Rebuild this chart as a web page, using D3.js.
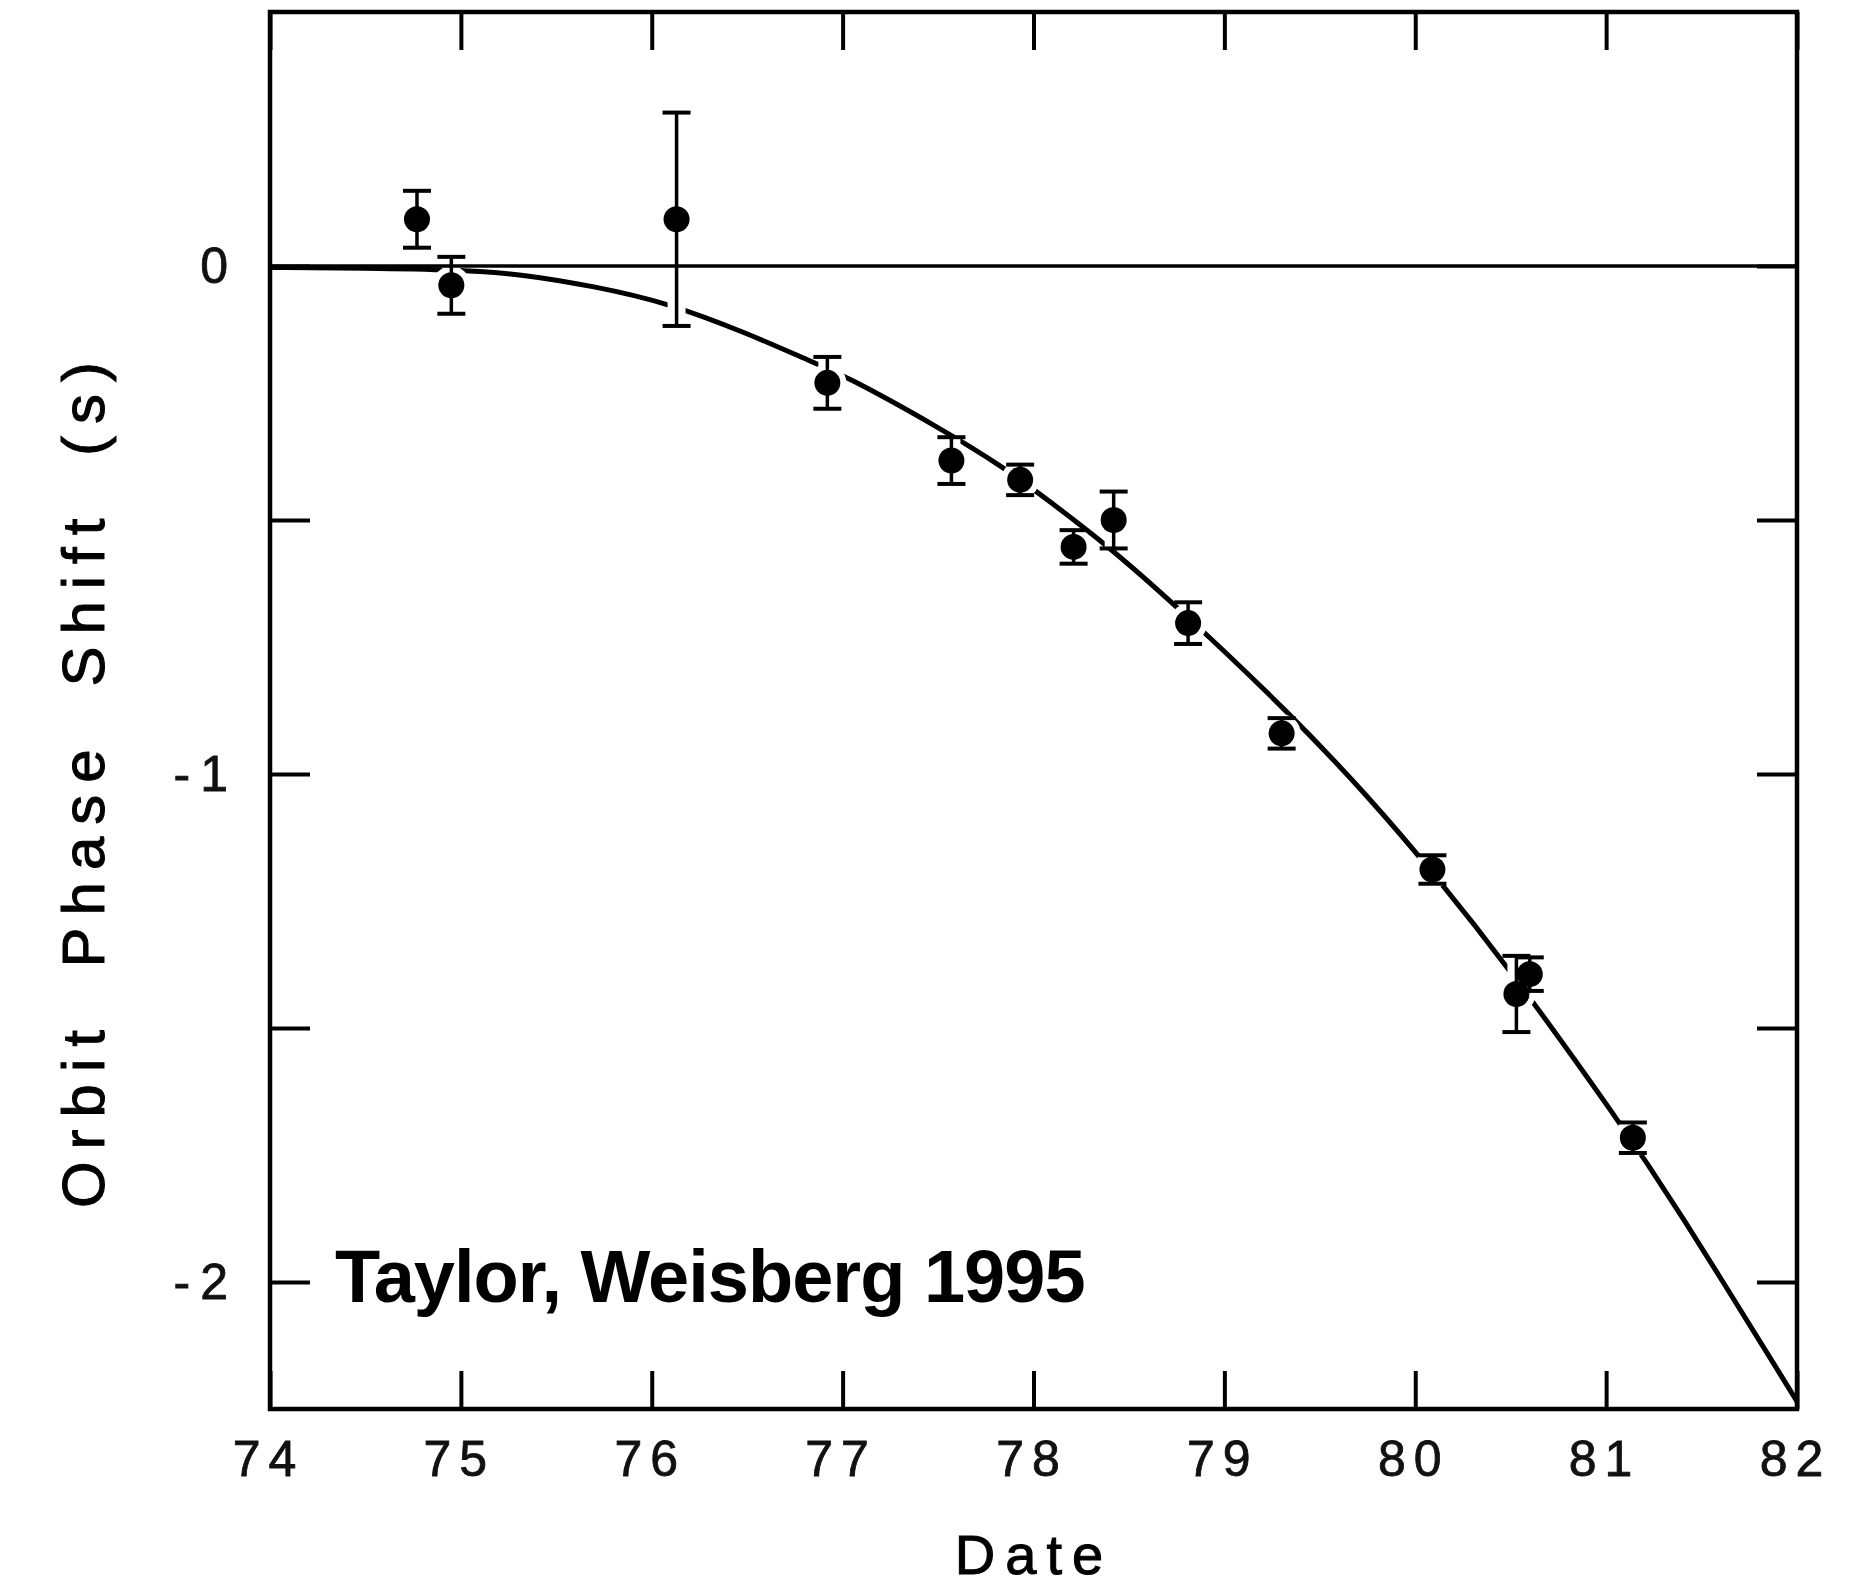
<!DOCTYPE html>
<html>
<head>
<meta charset="utf-8">
<script src="https://cdn.jsdelivr.net/npm/d3@7"></script>
<style>
  body { margin: 0; background: #fff; }
  svg { display: block; }
  .tick text { font-family: "Liberation Sans", Arial, sans-serif; font-size: 50px; fill: #111; stroke: #111; stroke-width: 0.8px; }
</style>
</head>
<body>
<script>

//Measured points: date (19xx), orbit phase shift (s), error half-height (s)
var dates  = [74.77, 74.95, 76.13, 76.92, 77.57, 77.93, 78.21, 78.42, 78.81, 79.30, 80.09, 80.53, 80.60, 81.14];
var shifts = [0.092, -0.038, 0.092, -0.230, -0.383, -0.421, -0.553, -0.500, -0.703, -0.920, -1.188, -1.433, -1.394, -1.716];
var errors = [0.056, 0.056, 0.210, 0.051, 0.046, 0.030, 0.033, 0.056, 0.041, 0.030, 0.028, 0.075, 0.033, 0.030];

//GR prediction curve
var curveDates  = [74.0, 74.5, 75.0, 75.3, 75.7, 76.08, 76.51, 76.81, 77.02, 77.51, 77.84, 78.09, 78.37, 78.72, 79.34, 79.76, 80.085, 80.49, 81.07, 81.35, 82.0];
var curveShifts = [-0.003, -0.004, -0.008, -0.015, -0.040, -0.072, -0.134, -0.184, -0.217, -0.319, -0.395, -0.465, -0.545, -0.659, -0.879, -1.047, -1.190, -1.381, -1.685, -1.840, -2.235];

//Tick values
var xTicks = [74, 75, 76, 77, 78, 79, 80, 81, 82];
var yTicks = [0, -0.5, -1, -1.5, -2];
var yLabelled = [0, -1, -2];

//Plot box (frame) in page pixels
var W = 1872, H = 1590;
var boxL = 270, boxR = 1797, boxT = 12, boxB = 1409;

var svg = d3.select("body")
  .append("svg")
  .attr("width", W)
  .attr("height", H);

var x = d3.scaleLinear().domain([74, 82]).range([boxL, boxR]);
var y = d3.scaleLinear().domain([-2.25, 0.5]).range([boxB, boxT]);

var points = dates.map(function(d, i){
  return {date: d, shift: shifts[i], err: errors[i]};
});
var curvePts = curveDates.map(function(d, i){ return [d, curveShifts[i]]; });

//Prediction curve
var line = d3.line()
  .x(function(d){ return x(d[0]); })
  .y(function(d){ return y(d[1]); })
  .curve(d3.curveBasis);

svg.append("path")
  .datum(curvePts)
  .attr("d", line)
  .attr("fill", "none")
  .attr("stroke", "#000")
  .attr("stroke-width", 5);

//White halos so the curve breaks around the markers, like the pen plot
var halo = svg.append("g").attr("class", "halo");
halo.selectAll("line")
  .data(points)
  .enter().append("line")
  .attr("x1", function(d){ return x(d.date); })
  .attr("x2", function(d){ return x(d.date); })
  .attr("y1", function(d){ return y(d.shift + d.err); })
  .attr("y2", function(d){ return y(d.shift - d.err); })
  .attr("stroke", "#fff")
  .attr("stroke-width", 18);
halo.selectAll("circle")
  .data(points)
  .enter().append("circle")
  .attr("cx", function(d){ return x(d.date); })
  .attr("cy", function(d){ return y(d.shift); })
  .attr("r", 19)
  .attr("fill", "#fff");

//Zero line
svg.append("line")
  .attr("x1", boxL).attr("x2", boxR)
  .attr("y1", y(0)).attr("y2", y(0))
  .attr("stroke", "#000")
  .attr("stroke-width", 3.5);

//Error bars and points
var marks = svg.append("g").attr("class", "marks");
var bars = marks.selectAll("g.bar")
  .data(points)
  .enter().append("g")
  .attr("class", "bar");

bars.append("line")
  .attr("x1", function(d){ return x(d.date); })
  .attr("x2", function(d){ return x(d.date); })
  .attr("y1", function(d){ return y(d.shift + d.err); })
  .attr("y2", function(d){ return y(d.shift - d.err); })
  .attr("stroke", "#000")
  .attr("stroke-width", 3.5);

bars.selectAll("line.cap")
  .data(function(d){ return [d.shift + d.err, d.shift - d.err].map(function(v){ return {date: d.date, v: v}; }); })
  .enter().append("line")
  .attr("class", "cap")
  .attr("x1", function(d){ return x(d.date) - 14; })
  .attr("x2", function(d){ return x(d.date) + 14; })
  .attr("y1", function(d){ return y(d.v); })
  .attr("y2", function(d){ return y(d.v); })
  .attr("stroke", "#000")
  .attr("stroke-width", 4);

bars.append("circle")
  .attr("cx", function(d){ return x(d.date); })
  .attr("cy", function(d){ return y(d.shift); })
  .attr("r", 13)
  .attr("fill", "#000");

//Axes, ticks pointing inward on all four sides
var xBottom = svg.append("g")
  .attr("transform", "translate(0," + boxB + ")")
  .call(d3.axisBottom(x).tickValues(xTicks).tickSize(-38).tickPadding(31)
    .tickFormat(function(d){ return d; }));
xBottom.selectAll("text").attr("dx", "-2px").style("letter-spacing", "8px");

svg.append("g")
  .attr("transform", "translate(0," + boxT + ")")
  .call(d3.axisTop(x).tickValues(xTicks).tickSize(-38).tickFormat(""));

var yLeft = svg.append("g")
  .attr("transform", "translate(" + boxL + ",0)")
  .call(d3.axisLeft(y).tickValues(yTicks).tickSize(-40).tickPadding(32)
    .tickFormat(function(d){ return yLabelled.indexOf(d) >= 0 ? (d < 0 ? "-" + (-d) : d) : ""; }));
yLeft.selectAll("text").style("letter-spacing", "10px");

svg.append("g")
  .attr("transform", "translate(" + boxR + ",0)")
  .call(d3.axisRight(y).tickValues(yTicks).tickSize(-40).tickFormat(""));

svg.selectAll(".domain").remove();
svg.selectAll(".tick line").attr("stroke", "#000").attr("stroke-width", 4);

//Frame
svg.append("rect")
  .attr("x", boxL).attr("y", boxT)
  .attr("width", boxR - boxL).attr("height", boxB - boxT)
  .attr("fill", "none")
  .attr("stroke", "#000")
  .attr("stroke-width", 4.5);

//Axis titles
svg.append("text")
  .attr("transform", "translate(104," + 779 + ") rotate(-90)")
  .attr("text-anchor", "middle")
  .style("font-family", "Liberation Sans, Arial, sans-serif")
  .style("font-size", "60px")
  .style("letter-spacing", "12px")
  .style("word-spacing", "22px")
  .style("stroke", "#000")
  .style("stroke-width", "1px")
  .text("Orbit Phase Shift (s)");

svg.append("text")
  .attr("x", 1034)
  .attr("y", 1574)
  .attr("text-anchor", "middle")
  .style("font-family", "Liberation Sans, Arial, sans-serif")
  .style("font-size", "56px")
  .style("letter-spacing", "10px")
  .style("stroke", "#000")
  .style("stroke-width", "1px")
  .text("Date");

//Source note
svg.append("text")
  .attr("x", 335)
  .attr("y", 1302)
  .style("font-family", "Liberation Sans, Arial, sans-serif")
  .style("font-weight", "bold")
  .style("font-size", "74px")
  .style("letter-spacing", "-1px")
  .text("Taylor, Weisberg 1995");

</script>
</body>
</html>
